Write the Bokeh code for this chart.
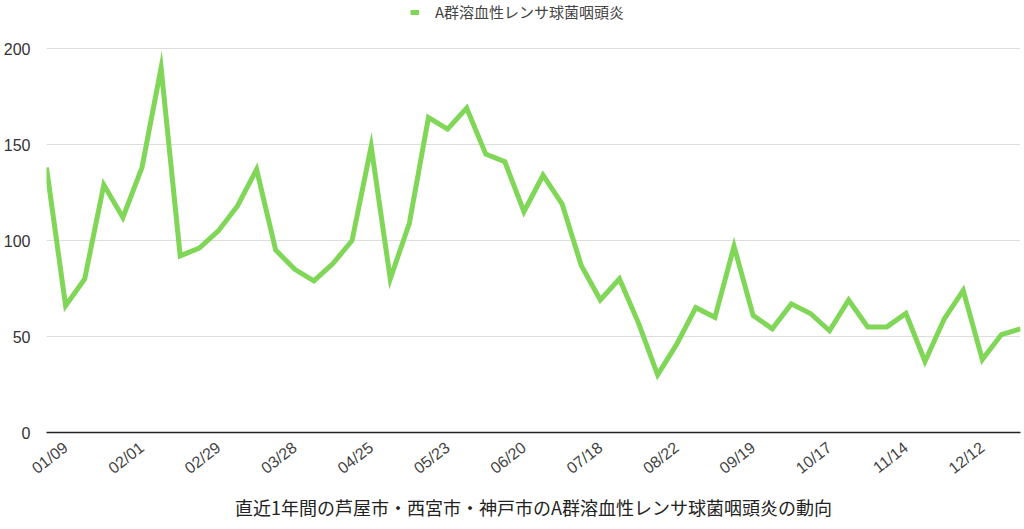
from bokeh.plotting import figure
from bokeh.models import Range1d, FixedTicker, Legend, LegendItem, ColumnDataSource
from bokeh.embed import file_html
from bokeh.resources import INLINE

# ---- data ----
dates = ["01/04", "01/09", "01/11", "01/18", "01/25", "02/01", "02/08", "02/15", "02/22", "02/29",
         "03/07", "03/14", "03/21", "03/28", "04/04", "04/11", "04/18", "04/25", "05/02", "05/09",
         "05/16", "05/23", "05/30", "06/06", "06/13", "06/20", "06/27", "07/04", "07/11", "07/18",
         "07/25", "08/01", "08/08", "08/22", "08/29", "09/05", "09/12", "09/19", "09/26", "10/03",
         "10/10", "10/17", "10/24", "10/31", "11/07", "11/14", "11/21", "11/28", "12/05", "12/12",
         "12/19", "12/26"]
cases = [138, 66, 80, 129, 112, 138, 190, 92, 96, 105,
         118, 137, 95, 85, 79, 88, 100, 149, 80, 109,
         164, 158, 169, 145, 141, 115, 134, 119, 87, 69,
         80, 57, 30, 46, 65, 60, 97, 61, 54, 67,
         62, 53, 69, 55, 55, 62, 37, 59, 74, 38,
         51, 54]
series_name = "A群溶血性レンサ球菌咽頭炎"
axis_title = "直近1年間の芦屋市・西宮市・神戸市のA群溶血性レンサ球菌咽頭炎の動向"
y_ticks = [0, 50, 100, 150, 200]
x_tick_idx = list(range(1, len(dates), 4))

JP = "Noto Sans CJK JP"
LAT = "Liberation Sans"
GREEN = "#80d656"

src = ColumnDataSource(dict(x=list(range(len(cases))), y=cases))

# y range extends above 200 to leave room for the legend inside the frame
p = figure(width=1022, height=528, output_backend="svg", toolbar_location=None,
           x_range=Range1d(0, len(cases) - 1), y_range=Range1d(0, 225),
           min_border_left=46, min_border_right=2, min_border_top=0, min_border_bottom=96)
p.outline_line_color = None
p.background_fill_color = "white"
p.border_fill_color = "white"

r = p.line("x", "y", source=src, line_color=GREEN, line_width=5, line_join="miter")

# y axis
p.yaxis.ticker = FixedTicker(ticks=y_ticks)
p.yaxis.axis_line_color = None
p.yaxis.major_tick_line_color = None
p.yaxis.minor_tick_line_color = None
p.yaxis.major_tick_out = 0
p.yaxis.major_label_standoff = 16
p.yaxis.major_label_text_font = LAT
p.yaxis.major_label_text_font_size = "16px"
p.yaxis.major_label_text_color = "#333333"
p.ygrid.ticker = FixedTicker(ticks=y_ticks[1:])
p.ygrid.grid_line_color = "#dddddd"
p.ygrid.grid_line_width = 1

# x axis
p.xgrid.grid_line_color = None
p.xaxis.ticker = FixedTicker(ticks=x_tick_idx)
p.xaxis.major_label_overrides = {i: dates[i] for i in x_tick_idx}
p.xaxis.major_label_orientation = 0.66
p.xaxis.major_tick_line_color = None
p.xaxis.minor_tick_line_color = None
p.xaxis.major_tick_out = 0
p.xaxis.major_label_standoff = 13
p.xaxis.axis_line_color = "#222222"
p.xaxis.axis_line_width = 1.5
p.xaxis.major_label_text_font = LAT
p.xaxis.major_label_text_font_size = "16px"
p.xaxis.major_label_text_color = "#444444"
p.xaxis.axis_label = axis_title
p.xaxis.axis_label_text_font = JP
p.xaxis.axis_label_text_font_style = "normal"
p.xaxis.axis_label_text_font_size = "18px"
p.xaxis.axis_label_text_color = "#222222"
p.xaxis.axis_label_standoff = 8

legend = Legend(items=[LegendItem(label=series_name, renderers=[r])],
                location=(364, 410), orientation="horizontal",
                border_line_color=None, background_fill_alpha=0,
                padding=0, margin=0, glyph_width=9, glyph_height=16,
                label_standoff=16, label_text_font=JP, label_text_font_size="15px",
                label_text_color="#444444")
p.add_layout(legend)

open("out.html", "w").write(file_html(p, INLINE))
